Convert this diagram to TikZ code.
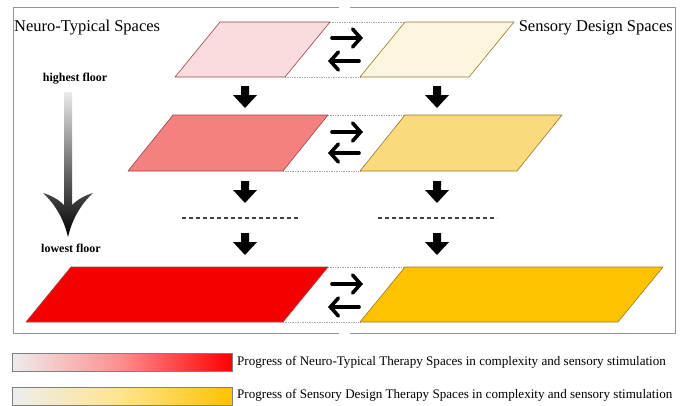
\documentclass[tikz,border=0pt]{standalone}
\usepackage{fontspec}
\setmainfont{Liberation Serif}
\usetikzlibrary{arrows.meta}
\definecolor{frameg}{RGB}{150,150,150}
\definecolor{pinkA}{RGB}{250,220,222}
\definecolor{pinkB}{RGB}{245,128,128}
\definecolor{pinkC}{RGB}{245,0,0}
\definecolor{yelA}{RGB}{253,245,222}
\definecolor{yelB}{RGB}{250,218,125}
\definecolor{yelC}{RGB}{255,194,0}
\definecolor{redline}{RGB}{150,70,70}
\definecolor{yelline}{RGB}{150,120,40}
\tikzset{
  framel/.style={draw=frameg, line width=0.9pt},
  leftpara/.style={draw=redline, line width=0.6pt, line join=round},
  rightpara/.style={draw=yelline, line width=0.6pt, line join=round},
  dotlink/.style={draw=gray!70, densely dotted, line width=0.7pt},
  dashsep/.style={draw=black!75, dash pattern=on 4pt off 3pt, line width=1.2pt},
  blockarrow/.style={fill=black},
  swaparrow/.style={draw=black, line width=3.6pt, -{Straight Barb[length=8pt,width=18pt,line cap=round]}, line cap=round},
  title/.style={font=\fontsize{16.5}{19}\selectfont, inner sep=0pt},
  floorlab/.style={font=\fontsize{12}{14}\selectfont\bfseries, inner sep=0pt},
  legtext/.style={font=\fontsize{13.1}{16}\selectfont, inner sep=0pt, anchor=west},
  legbar/.style={draw=gray, line width=0.8pt}
}
\newcommand{\downblock}[3]{% x, ytop, name
  \fill[blockarrow] (#1-4,#2) -- (#1+4,#2) -- (#1+4,#2+9) -- (#1+12,#2+9) -- (#1,#2+22) -- (#1-12,#2+9) -- (#1-4,#2+9) -- cycle;
  \coordinate (#3) at (#1,#2+11);
}
\begin{document}
\begin{tikzpicture}[x=1pt,y=-1pt]
\useasboundingbox (0,0) rectangle (681,405);
\fill[white] (0,0) rectangle (681,405);
% frame (two open panels)
\draw[framel] (339,7) -- (13,7) -- (13,333) -- (339,333);
\draw[framel] (350,7) -- (675,7) -- (675,333) -- (350,333);
% titles
\node[title, anchor=west] (tl) at (14,28) {Neuro-Typical Spaces};
\node[title, anchor=east] (tr) at (673,28) {Sensory Design Spaces};
% parallelogram corners
\coordinate (l1a) at (220,22); \coordinate (l1b) at (330,22); \coordinate (l1c) at (285,77); \coordinate (l1d) at (175,77);
\coordinate (r1a) at (405,22); \coordinate (r1b) at (514,22); \coordinate (r1c) at (469,77); \coordinate (r1d) at (360,77);
\coordinate (l2a) at (173,115); \coordinate (l2b) at (328,115); \coordinate (l2c) at (283,171); \coordinate (l2d) at (128,171);
\coordinate (r2a) at (405,115); \coordinate (r2b) at (562,115); \coordinate (r2c) at (517,171); \coordinate (r2d) at (360,171);
\coordinate (l3a) at (71,267); \coordinate (l3b) at (328,267); \coordinate (l3c) at (283,322); \coordinate (l3d) at (26,322);
\coordinate (r3a) at (405,267); \coordinate (r3b) at (663,267); \coordinate (r3c) at (618,322); \coordinate (r3d) at (360,322);
% dotted links
\foreach \r in {1,2,3}{
  \draw[dotlink] (l\r b) -- (r\r a);
  \draw[dotlink] (l\r c) -- (r\r d);
}
% parallelograms
\draw[leftpara, fill=pinkA] (l1a) -- (l1b) -- (l1c) -- (l1d) -- cycle;
\draw[leftpara, fill=pinkB] (l2a) -- (l2b) -- (l2c) -- (l2d) -- cycle;
\draw[leftpara, fill=pinkC] (l3a) -- (l3b) -- (l3c) -- (l3d) -- cycle;
\draw[rightpara, fill=yelA] (r1a) -- (r1b) -- (r1c) -- (r1d) -- cycle;
\draw[rightpara, fill=yelB] (r2a) -- (r2b) -- (r2c) -- (r2d) -- cycle;
\draw[rightpara, fill=yelC] (r3a) -- (r3b) -- (r3c) -- (r3d) -- cycle;
% swap arrows
\coordinate (s1a) at (332,38); \coordinate (s1b) at (363,38);
\coordinate (s1c) at (359,61); \coordinate (s1d) at (328,61);
\coordinate (s2a) at (332,132); \coordinate (s2b) at (363,132);
\coordinate (s2c) at (359,153); \coordinate (s2d) at (328,153);
\coordinate (s3a) at (332,284); \coordinate (s3b) at (363,284);
\coordinate (s3c) at (359,307); \coordinate (s3d) at (328,307);
\foreach \r in {1,2,3}{
  \draw[swaparrow] (s\r a) -- (s\r b);
  \draw[swaparrow] (s\r c) -- (s\r d);
}
% down block arrows
\downblock{245}{86}{dl1}
\downblock{437}{86}{dr1}
\downblock{245}{181}{dl2}
\downblock{437}{181}{dr2}
\downblock{245}{233}{dl3}
\downblock{437}{233}{dr3}
% dashed separators
\coordinate (dsl1) at (182,218); \coordinate (dsl2) at (300,218);
\coordinate (dsr1) at (378,218); \coordinate (dsr2) at (497,218);
\draw[dashsep] (dsl1) -- (dsl2);
\draw[dashsep] (dsr1) -- (dsr2);
% floor labels
\node[floorlab] (hf) at (75,79) {highest floor};
\node[floorlab] (lf) at (71,248) {lowest floor};
% gradient arrow
\shade[top color=white!92!black, bottom color=black, middle color=black!55]
  (64,92) -- (72,92) -- (72,205)
  .. controls (78,199) and (86,195) .. (93,193)
  .. controls (80,205) and (72,220) .. (68,237)
  .. controls (64,220) and (56,205) .. (43,193)
  .. controls (50,195) and (58,199) .. (64,205) -- cycle;
% legend
\shade[left color=white!93!black, right color=red, middle color=red!45!white] (12,353) rectangle (232,371);
\draw[legbar] (12,353) rectangle (232,371);
\node[legtext] (lg1) at (237,362) {Progress of Neuro-Typical Therapy Spaces in complexity and sensory stimulation};
\shade[left color=white!93!black, right color=yelC, middle color=yelC!45!white] (12,387) rectangle (232,405);
\draw[legbar] (12,387) rectangle (232,405);
\node[legtext] (lg2) at (237,395) {Progress of Sensory Design Therapy Spaces in complexity and sensory stimulation};
\end{tikzpicture}
\end{document}
